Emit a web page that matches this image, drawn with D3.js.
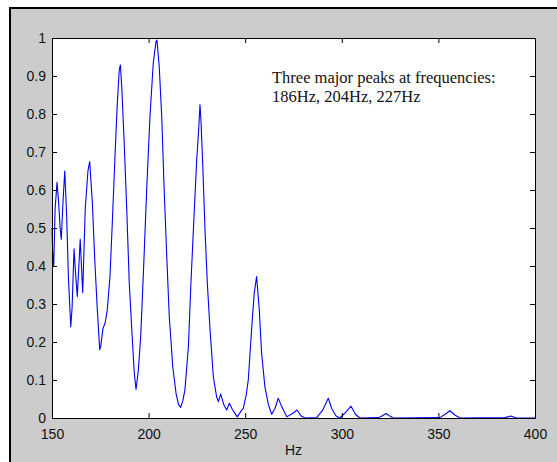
<!DOCTYPE html>
<html><head><meta charset="utf-8">
<script src="https://cdn.jsdelivr.net/npm/d3@7"></script>
<style>body{margin:0;background:#fff;}svg{display:block;}</style>
</head><body><svg id="c" width="557" height="462"></svg>
<script>
// Data
const freqs = [150.0,150.4,150.9,151.6,152.6,153.4,154.2,154.8,155.6,156.6,157.6,158.5,159.7,160.4,161.4,162.2,163.1,164.6,165.9,167.2,168.6,169.5,170.9,172.1,173.4,174.7,175.2,176.4,177.5,178.6,180.0,181.2,182.6,183.8,184.8,185.4,186.1,187.3,188.7,190.0,191.6,192.6,193.5,194.7,195.9,197.3,199.0,200.7,202.4,203.8,204.3,205.5,206.8,208.0,209.4,210.7,212.5,214.2,215.5,216.6,217.7,218.8,220.6,221.9,223.5,224.9,225.9,226.6,227.1,228.0,229.2,230.4,231.8,233.5,235.2,236.1,237.3,239.0,240.4,241.8,243.5,245.9,248.2,249.0,250.5,251.6,253.4,254.7,255.9,256.4,257.3,258.5,260.2,262.0,263.7,265.4,267.1,268.9,271.5,274.5,276.8,279.0,281.0,287.0,290.0,293.0,294.8,297.0,299.0,301.5,304.8,307.0,309.4,319.0,321.0,322.9,324.8,326.7,350.8,353.5,356.0,358.5,361.2,384.5,387.4,390.5,400.0];
const amps = [0.50,0.43,0.40,0.55,0.62,0.57,0.50,0.47,0.56,0.65,0.53,0.37,0.24,0.29,0.445,0.38,0.32,0.47,0.33,0.55,0.65,0.675,0.565,0.42,0.29,0.18,0.188,0.236,0.25,0.284,0.372,0.512,0.688,0.828,0.916,0.929,0.872,0.732,0.547,0.354,0.205,0.118,0.075,0.126,0.214,0.38,0.60,0.793,0.933,0.99,0.995,0.925,0.793,0.609,0.425,0.267,0.135,0.065,0.035,0.028,0.045,0.074,0.188,0.354,0.53,0.679,0.758,0.824,0.784,0.67,0.495,0.354,0.232,0.109,0.056,0.043,0.063,0.034,0.021,0.039,0.021,0.003,0.021,0.025,0.06,0.10,0.24,0.33,0.372,0.34,0.284,0.17,0.082,0.035,0.01,0.025,0.052,0.03,0.003,0.012,0.021,0.005,0.0,0.001,0.02,0.052,0.025,0.005,0.0,0.012,0.031,0.01,0.0,0.001,0.006,0.012,0.005,0.0,0.001,0.01,0.019,0.008,0.0,0.001,0.005,0.0,0.0];
const xTicks = [150,200,250,300,350,400];
const yTicks = [0,0.1,0.2,0.3,0.4,0.5,0.6,0.7,0.8,0.9,1];
const xLabel = "Hz";
const noteLines = ["Three major peaks at frequencies:", "186Hz, 204Hz, 227Hz"];

const svg = d3.select("#c");
const L = 52, R = 535, T = 38, B = 418;
const x = d3.scaleLinear().domain([150,400]).range([L,R]);
const y = d3.scaleLinear().domain([0,1]).range([B,T]);

// figure background
svg.append("rect").attr("x",10).attr("y",8).attr("width",547).attr("height",454).attr("fill","#cccccc");
svg.append("line").attr("x1",10).attr("x2",557).attr("y1",8).attr("y2",8).attr("stroke","#000").attr("stroke-width",2);
svg.append("line").attr("x1",10).attr("x2",10).attr("y1",7).attr("y2",462).attr("stroke","#000").attr("stroke-width",2);

// plot area
svg.append("rect").attr("x",L).attr("y",T).attr("width",R-L).attr("height",B-T).attr("fill","#ffffff");

// data line
const pts = freqs.map((f,i)=>[f,amps[i]]);
svg.append("path").datum(pts)
  .attr("d", d3.line().x(d=>x(d[0])).y(d=>y(d[1])).curve(d3.curveLinear))
  .attr("fill","none").attr("stroke","#0000ff").attr("stroke-width",1.1).attr("stroke-linejoin","round");

const fontS = "'Liberation Sans', Arial, sans-serif";
// axes
const ax = d3.axisBottom(x).tickValues(xTicks).tickSizeInner(-5).tickSizeOuter(0).tickPadding(11).tickFormat(d3.format("d"));
const gx = svg.append("g").attr("transform",`translate(0,${B})`).call(ax);
const ay = d3.axisLeft(y).tickValues(yTicks).tickSizeInner(-5).tickSizeOuter(0).tickPadding(11).tickFormat(d=>d===0?"0":d===1?"1":d3.format(".1f")(d));
const gy = svg.append("g").attr("transform",`translate(${L},0)`).call(ay);
const at = d3.axisTop(x).tickValues(xTicks).tickSizeInner(-5).tickSizeOuter(0).tickFormat("");
svg.append("g").attr("transform",`translate(0,${T})`).call(at);
const ar = d3.axisRight(y).tickValues(yTicks).tickSizeInner(-5).tickSizeOuter(0).tickFormat("");
svg.append("g").attr("transform",`translate(${R},0)`).call(ar);
svg.selectAll(".domain").attr("stroke","#000");
svg.selectAll(".tick line").attr("stroke","#000");
svg.selectAll(".tick text").attr("font-family",fontS).attr("font-size","14px").attr("fill","#111");
gy.selectAll(".tick text").attr("x",-6);

// x label
svg.append("text").attr("x",(L+R)/2).attr("y",455).attr("text-anchor","middle")
  .attr("font-family",fontS).attr("font-size","14px").attr("fill","#111").text(xLabel);

// annotation
noteLines.forEach((t,i)=>{
  svg.append("text").attr("x",272).attr("y",83+i*18.5)
    .attr("font-family","'Liberation Serif','Times New Roman',serif").attr("font-size","16.5px").attr("fill","#111").text(t);
});
</script></body></html>
